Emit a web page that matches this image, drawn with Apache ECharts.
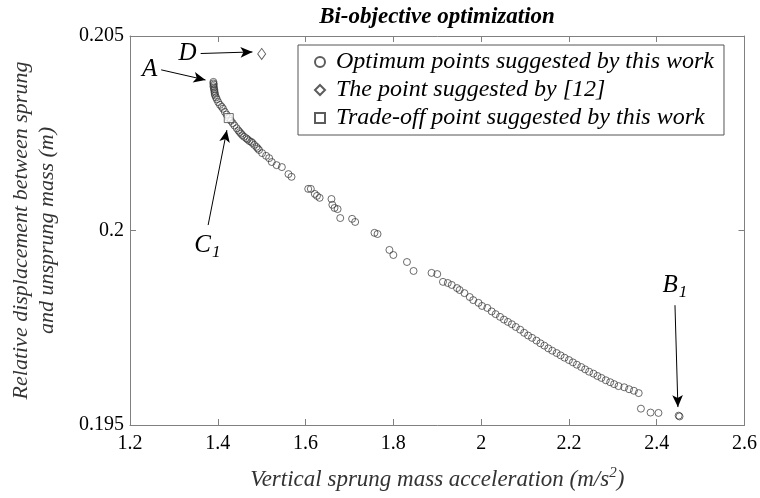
<!DOCTYPE html>
<html>
<head>
<meta charset="utf-8">
<script src="https://cdn.jsdelivr.net/npm/echarts@6/dist/echarts.min.js"></script>
<style>html,body{margin:0;padding:0;background:#fff}#c{width:760px;height:498px}</style>
</head>
<body>
<div id="c"></div>
<script>
// Pareto front: [acceleration (m/s^2), relative displacement (m)]
const paretoX = [1.390,1.390,1.391,1.390,1.391,1.392,1.392,1.393,1.393,1.394,1.396,1.398,1.401,1.405,1.409,1.412,1.416,1.420,1.425,1.430,1.434,1.438,1.443,1.447,1.450,1.453,1.456,1.460,1.465,1.468,1.472,1.476,1.479,1.483,1.488,1.491,1.494,1.501,1.510,1.517,1.523,1.534,1.546,1.561,1.568,1.606,1.612,1.621,1.626,1.632,1.659,1.661,1.666,1.673,1.679,1.706,1.713,1.757,1.764,1.791,1.800,1.831,1.846,1.887,1.900,1.913,1.924,1.933,1.945,1.951,1.962,1.974,1.982,1.994,2.002,2.014,2.024,2.033,2.043,2.052,2.061,2.070,2.079,2.089,2.098,2.107,2.116,2.126,2.135,2.144,2.153,2.162,2.172,2.181,2.190,2.200,2.209,2.218,2.228,2.237,2.246,2.256,2.265,2.274,2.284,2.294,2.303,2.313,2.326,2.337,2.348,2.359,2.364,2.386,2.404,2.450,2.452];
const paretoY = [0.20382,0.20378,0.20375,0.20371,0.20367,0.20363,0.20359,0.20355,0.20351,0.20347,0.20342,0.20337,0.20330,0.20323,0.20318,0.20313,0.20305,0.20298,0.20289,0.20282,0.20276,0.20270,0.20263,0.20257,0.20253,0.20249,0.20245,0.20241,0.20237,0.20234,0.20230,0.20228,0.20225,0.20220,0.20215,0.20211,0.20207,0.20199,0.20192,0.20186,0.20176,0.20168,0.20163,0.20145,0.20138,0.20107,0.20107,0.20094,0.20089,0.20084,0.20081,0.20066,0.20058,0.20055,0.20032,0.20030,0.20022,0.19994,0.19991,0.19950,0.19937,0.19919,0.19896,0.19891,0.19888,0.19868,0.19865,0.19860,0.19852,0.19847,0.19839,0.19829,0.19821,0.19814,0.19806,0.19801,0.19792,0.19785,0.19778,0.19771,0.19765,0.19759,0.19752,0.19745,0.19737,0.19730,0.19724,0.19717,0.19710,0.19704,0.19697,0.19691,0.19685,0.19679,0.19673,0.19667,0.19661,0.19655,0.19649,0.19643,0.19637,0.19632,0.19626,0.19621,0.19615,0.19610,0.19605,0.19600,0.19597,0.19592,0.19588,0.19582,0.19542,0.19532,0.19531,0.19524,0.19522];
const refPoint = [1.500, 0.20454];      // point D, suggested by [12]
const tradeOff = [1.425, 0.20289];      // point C1
const xTicks = {min: 1.2, max: 2.6, step: 0.2};
const yTicks = {min: 0.195, max: 0.205, step: 0.005};
const seriesNames = ['Optimum points suggested by this work','The point suggested by [12]','Trade-off point suggested by this work'];
// annotation arrows: [label, start, end]
const arrows = [
  ['A', [1.271, 0.20413], [1.372, 0.20387]],
  ['D', [1.361, 0.20455], [1.479, 0.20459]],
  ['C1', [1.378, 0.20014], [1.4207, 0.20258]],
  ['B1', [2.4416, 0.19808], [2.4483, 0.19546]]
];

const FONT = 'Liberation Serif';
const pareto = paretoX.map((x, i) => [x, paretoY[i]]);
const axisCol = '#808080';

const labelRich = {
  m: {fontFamily: FONT, fontStyle: 'italic', fontSize: 25, color: '#000'},
  s: {fontFamily: FONT, fontStyle: 'italic', fontSize: 17, color: '#000', padding: [15, 0, 0, 1]}
};
function fmtLabel(t) {
  if (t.length > 1) return '{m|' + t[0] + '}{s|' + t.slice(1) + '}';
  return '{m|' + t + '}';
}

const chart = echarts.init(document.getElementById('c'), null, {renderer: 'canvas'});
const baseAxis = {
  axisLine: {show: true, lineStyle: {color: axisCol, width: 1}},
  axisTick: {show: true, inside: true, length: 6, lineStyle: {color: axisCol}},
  splitLine: {show: false}
};
chart.setOption({
  animation: false,
  backgroundColor: '#fff',
  title: {
    text: 'Bi-objective optimization',
    left: 432, top: 1, textAlign: 'center',
    textStyle: {fontFamily: FONT, fontStyle: 'italic', fontWeight: 'bold', fontSize: 23, color: '#000'}
  },
  grid: {left: 118, right: 14, top: 36, bottom: 73},
  legend: {
    orient: 'vertical', left: 298, top: 45,
    data: seriesNames,
    backgroundColor: '#fff',
    borderColor: '#555', borderWidth: 1, borderRadius: 0,
    padding: [5, 10, 5, 16], itemGap: 4,
    itemWidth: 10, itemHeight: 10,
    textStyle: {fontFamily: FONT, fontStyle: 'italic', fontSize: 24, color: '#000', padding: [0,0,0,6]}
  },
  xAxis: [
    Object.assign({}, baseAxis, {
      type: 'value', min: xTicks.min, max: xTicks.max, interval: xTicks.step,
      axisLabel: {fontFamily: FONT, fontSize: 20, color: '#000', margin: 9},
      name: 'Vertical sprung mass acceleration (m/s{sup|2})',
      nameLocation: 'middle', nameGap: 41,
      nameTextStyle: {fontFamily: FONT, fontStyle: 'italic', fontSize: 23, color: '#333',
        rich: {sup: {fontFamily: FONT, fontStyle: 'italic', fontSize: 15, color: '#333', padding: [0,0,12,0]}}}
    }),
    Object.assign({}, baseAxis, {
      type: 'value', position: 'top', min: xTicks.min, max: xTicks.max, interval: xTicks.step,
      axisLabel: {show: false}
    })
  ],
  yAxis: [
    Object.assign({}, baseAxis, {
      type: 'value', min: yTicks.min, max: yTicks.max, interval: yTicks.step,
      axisLabel: {fontFamily: FONT, fontSize: 20, color: '#000', margin: 6},
      name: 'Relative displacement between sprung\nand unsprung mass (m)',
      nameLocation: 'middle', nameGap: 70, nameRotate: 90,
      nameTextStyle: {fontFamily: FONT, fontStyle: 'italic', fontSize: 22, color: '#333', lineHeight: 26}
    }),
    Object.assign({}, baseAxis, {
      type: 'value', position: 'right', min: yTicks.min, max: yTicks.max, interval: yTicks.step,
      axisLabel: {show: false}
    })
  ],
  series: [
    {
      name: seriesNames[0], type: 'scatter', data: pareto,
      symbol: 'circle', symbolSize: 7,
      itemStyle: {color: 'rgba(255,255,255,0)', borderColor: '#333', borderWidth: 0.9}
    },
    {
      name: seriesNames[1], type: 'scatter', data: [refPoint],
      symbol: 'diamond', symbolSize: [8, 11],
      itemStyle: {color: '#fff', borderColor: '#333', borderWidth: 0.9}
    },
    {
      name: seriesNames[2], type: 'scatter', data: [tradeOff],
      symbol: 'rect', symbolSize: 9,
      itemStyle: {color: '#fff', borderColor: '#333', borderWidth: 0.9}, z: 3
    },
    {
      name: 'annotations', type: 'line', data: [], silent: true,
      markLine: {
        silent: true, animation: false,
        symbol: ['none', 'arrow'], symbolSize: [8, 12],
        lineStyle: {color: '#000', width: 1, type: 'solid'},
        label: {show: true, position: 'start', distance: 4, rich: labelRich,
          formatter: p => fmtLabel(p.name)},
        data: arrows.map(a => [
          {name: a[0], coord: a[1]},
          {coord: a[2]}
        ])
      }
    }
  ]
});
</script>
</body>
</html>
